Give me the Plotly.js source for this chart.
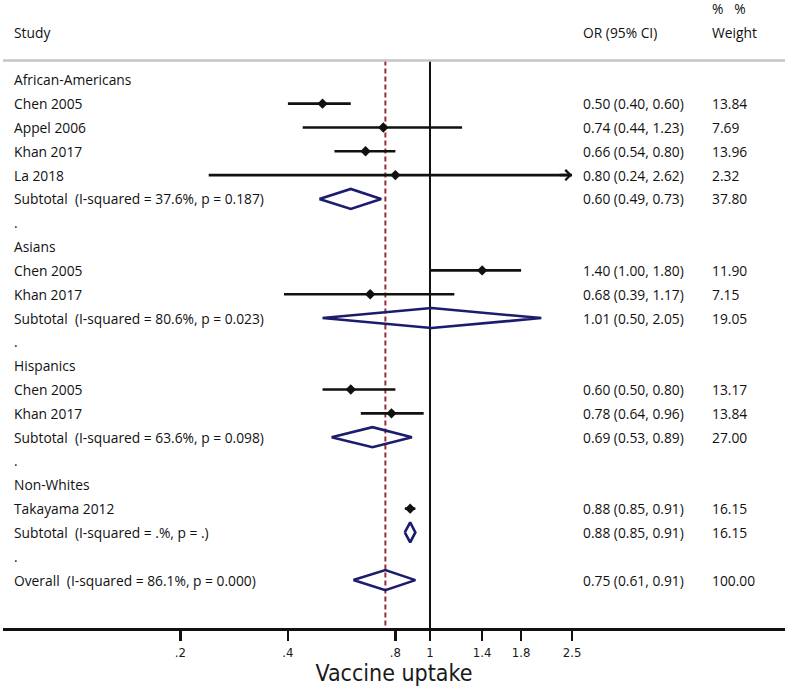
<!DOCTYPE html>
<html><head><meta charset="utf-8">
<script src="https://cdn.plot.ly/plotly-3.0.1.min.js"></script>
<style>html,body{margin:0;padding:0;background:#fff}#chart{width:789px;height:689px}</style>
</head><body><div id="chart"></div>
<script>
const labels = ["African-Americans","Chen 2005","Appel 2006","Khan 2017","La 2018",
  "Subtotal\u00a0 (I-squared = 37.6%, p = 0.187)",".",
  "Asians","Chen 2005","Khan 2017","Subtotal\u00a0 (I-squared = 80.6%, p = 0.023)",".",
  "Hispanics","Chen 2005","Khan 2017","Subtotal\u00a0 (I-squared = 63.6%, p = 0.098)",".",
  "Non-Whites","Takayama 2012","Subtotal\u00a0 (I-squared = .%, p = .)",".",
  "Overall\u00a0 (I-squared = 86.1%, p = 0.000)"];
const rowKind = ["group","study","study","study","study","subtotal","spacer",
  "group","study","study","subtotal","spacer",
  "group","study","study","subtotal","spacer",
  "group","study","subtotal","spacer","overall"];
const orEst  = [null,0.50,0.74,0.66,0.80,0.60,null,null,1.40,0.68,1.01,null,null,0.60,0.78,0.69,null,null,0.88,0.88,null,0.75];
const ciLow  = [null,0.40,0.44,0.54,0.24,0.49,null,null,1.00,0.39,0.50,null,null,0.50,0.64,0.53,null,null,0.85,0.85,null,0.61];
const ciHigh = [null,0.60,1.23,0.80,2.62,0.73,null,null,1.80,1.17,2.05,null,null,0.80,0.96,0.89,null,null,0.91,0.91,null,0.91];
const weightPct = [null,13.84,7.69,13.96,2.32,37.80,null,null,11.90,7.15,19.05,null,null,13.17,13.84,27.00,null,null,16.15,16.15,null,100.00];
const tickVals = [0.2,0.4,0.8,1,1.4,1.8,2.5];
const tickText = [".2",".4",".8","1","1.4","1.8","2.5"];
const headerStudy = "Study";
const headerOR = "OR (95% CI)";
const headerPct = "%\u00a0\u00a0\u00a0%";
const headerWeight = "Weight";
const axisTitle = "Vaccine uptake";

const clipMax = tickVals[tickVals.length-1];
const overallIdx = rowKind.indexOf("overall");
const overallEst = orEst[overallIdx];

const rowTop = -0.81, rowBottom = 23.01;
const txtFont = {family:"Open Sans, sans-serif", size:13.8, color:"#111"};
const colStudy = 0.0115, colOR = 0.7391, colW = 0.9041;

const ciX=[], ciY=[], ptX=[], ptY=[], dmX=[], dmY=[];
const arrows=[];
const h = 0.42;
rowKind.forEach((k,i)=>{
  if(k==="study"){
    ciX.push(ciLow[i], Math.min(ciHigh[i],clipMax), null); ciY.push(i,i,null);
    ptX.push(orEst[i]); ptY.push(i);
    if(ciHigh[i]>clipMax) arrows.push(i);
  } else if(k==="subtotal"||k==="overall"){
    dmX.push(ciLow[i],orEst[i],ciHigh[i],orEst[i],ciLow[i],null);
    dmY.push(i,i-h,i,i+h,i,null);
  }
});

const traces = [
  {x:[1,1], y:[rowTop,rowBottom], mode:"lines", line:{color:"#111",width:2}, hoverinfo:"skip"},
  {x:[overallEst,overallEst], y:[rowTop,rowBottom], mode:"lines", line:{color:"#9b2d3c",width:2,dash:"5px,3px"}, hoverinfo:"skip"},
  {x:ciX, y:ciY, mode:"lines", line:{color:"#111",width:2.6}, connectgaps:false, hoverinfo:"skip"},
  {x:ptX, y:ptY, mode:"markers", marker:{symbol:"diamond",size:8,color:"#111"}, hoverinfo:"skip"},
  {x:dmX, y:dmY, mode:"lines", line:{color:"#1c1c6e",width:2.6}, connectgaps:false, hoverinfo:"skip"}
];

const ann = [];
labels.forEach((t,i)=>{
  ann.push({xref:"paper",yref:"y",x:colStudy,y:i,text:t,showarrow:false,xanchor:"left",yanchor:"middle",font:txtFont});
  if(orEst[i]!==null){
    ann.push({xref:"paper",yref:"y",x:colOR,y:i,text:orEst[i].toFixed(2)+" ("+ciLow[i].toFixed(2)+", "+ciHigh[i].toFixed(2)+")",showarrow:false,xanchor:"left",yanchor:"middle",font:txtFont});
    ann.push({xref:"paper",yref:"y",x:colW,y:i,text:weightPct[i].toFixed(2),showarrow:false,xanchor:"left",yanchor:"middle",font:txtFont});
  }
});
ann.push({xref:"paper",yref:"y",x:colStudy,y:-2,text:headerStudy,showarrow:false,xanchor:"left",yanchor:"middle",font:txtFont});
ann.push({xref:"paper",yref:"y",x:colOR,y:-2,text:headerOR,showarrow:false,xanchor:"left",yanchor:"middle",font:txtFont});
ann.push({xref:"paper",yref:"y",x:colW,y:-2,text:headerWeight,showarrow:false,xanchor:"left",yanchor:"middle",font:txtFont});
ann.push({xref:"paper",yref:"y",x:colW,y:-3,text:headerPct,showarrow:false,xanchor:"left",yanchor:"middle",font:txtFont});
arrows.forEach(i=>{
  ann.push({xref:"x",yref:"y",x:Math.log10(clipMax),y:i,axref:"pixel",ayref:"pixel",ax:-14,ay:0,text:"",showarrow:true,arrowhead:4,arrowsize:0.8,arrowwidth:2.5,arrowcolor:"#111"});
});

const layout = {
  width:789, height:689,
  margin:{l:3,r:4,t:0,b:61},
  paper_bgcolor:"#fff", plot_bgcolor:"#fff",
  showlegend:false,
  xaxis:{type:"log", range:[-1.196,0.9944], tickvals:tickVals, ticktext:tickText,
    showgrid:false, zeroline:false, showline:true, linecolor:"#111", linewidth:2.5,
    ticks:"outside", ticklen:10, tickwidth:2.5, tickcolor:"#111", ticklabelstandoff:1,
    tickfont:{family:"DejaVu Sans Condensed, Liberation Sans Narrow, sans-serif", size:13, color:"#1a1a1a"},
    title:{text:axisTitle, font:{family:"DejaVu Sans Condensed, Liberation Sans Narrow, sans-serif", size:23, color:"#1a1a1a"}, standoff:4},
    automargin:false, fixedrange:true},
  yaxis:{range:[rowBottom,-3.35], visible:false, fixedrange:true},
  shapes:[{type:"line",xref:"paper",yref:"y",x0:0,x1:1,y0:rowTop,y1:rowTop,line:{color:"#c4c4c4",width:2.5}}],
  annotations:ann
};
Plotly.newPlot("chart", traces, layout, {displayModeBar:false, staticPlot:true});
</script></body></html>
